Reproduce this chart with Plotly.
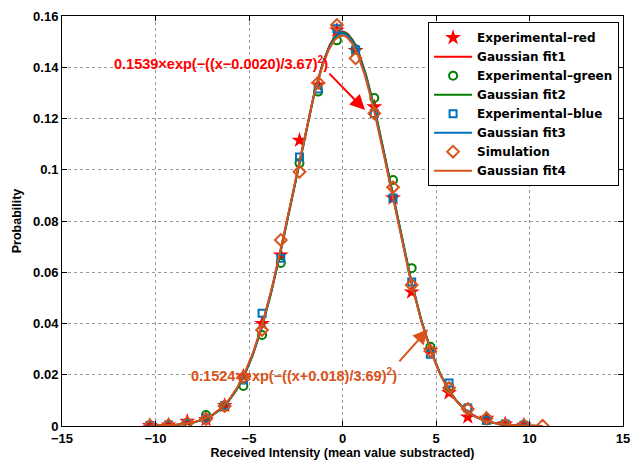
import numpy as np
import plotly.graph_objects as go

x_pts = [-10.3, -9.3, -8.3, -7.3, -6.3, -5.3, -4.3, -3.3, -2.3, -1.3, -0.3, 0.7,
         1.7, 2.7, 3.7, 4.7, 5.7, 6.7, 7.7, 8.7, 9.7]
x_sim = x_pts + [10.7]

red_vals = [0.0002, 0.0004, 0.0018, 0.0025, 0.0080, 0.0195, 0.0400, 0.0667, 0.1115, 0.1330,
            0.1545, 0.1465, 0.1245, 0.0890, 0.0523, 0.0295, 0.0130, 0.0035, 0.0030, 0.0008, 0.0003]
green_vals = [0.0002, 0.0004, 0.0012, 0.0043, 0.0074, 0.0156, 0.0355, 0.0636, 0.1026, 0.1305,
              0.1505, 0.1470, 0.1280, 0.0960, 0.0616, 0.0309, 0.0152, 0.0070, 0.0022, 0.0008, 0.0003]
blue_vals = [0.0002, 0.0004, 0.0010, 0.0030, 0.0080, 0.0180, 0.0440, 0.0655, 0.1050, 0.1315,
             0.1550, 0.1467, 0.1220, 0.0890, 0.0562, 0.0280, 0.0168, 0.0070, 0.0022, 0.0008, 0.0003]
sim_vals = [0.0002, 0.0004, 0.0012, 0.0027, 0.0078, 0.0190, 0.0375, 0.0726, 0.0992, 0.1340,
            0.1565, 0.1435, 0.1220, 0.0932, 0.0550, 0.0293, 0.0148, 0.0066, 0.0030, 0.0005, 0.0003, 0.0001]

# Gaussian fit parameters (amplitude, center, width)
fit1 = (0.1539, 0.0020, 3.67)
fit2 = (0.1536, 0.0100, 3.675)
fit3 = (0.1532, -0.0050, 3.68)
fit4 = (0.1524, -0.018, 3.69)

names = ["Experimental\u2013red", "Gaussian fit1", "Experimental\u2013green", "Gaussian fit2",
         "Experimental\u2013blue", "Gaussian fit3", "Simulation", "Gaussian fit4"]

RED, GREEN, BLUE, ORANGE = "#FF0000", "#008000", "#0072BD", "#D95319"

xc = np.linspace(-10.3, 10.7, 400)
def gauss(p):
    a, b, c = p
    return a * np.exp(-((xc - b) / c) ** 2)

fig = go.Figure()
fig.add_trace(go.Scatter(x=x_pts, y=red_vals, mode="markers", name=names[0],
                         marker=dict(symbol="star", size=12, color=RED, line=dict(width=0))))
fig.add_trace(go.Scatter(x=xc, y=gauss(fit1), mode="lines", name=names[1],
                         line=dict(color=RED, width=2)))
fig.add_trace(go.Scatter(x=x_pts, y=green_vals, mode="markers", name=names[2],
                         marker=dict(symbol="circle-open", size=8, color=GREEN, line=dict(width=2))))
fig.add_trace(go.Scatter(x=xc, y=gauss(fit2), mode="lines", name=names[3],
                         line=dict(color=GREEN, width=2)))
fig.add_trace(go.Scatter(x=x_pts, y=blue_vals, mode="markers", name=names[4],
                         marker=dict(symbol="square-open", size=7, color=BLUE, line=dict(width=2))))
fig.add_trace(go.Scatter(x=xc, y=gauss(fit3), mode="lines", name=names[5],
                         line=dict(color=BLUE, width=2)))
fig.add_trace(go.Scatter(x=x_sim, y=sim_vals, mode="markers", name=names[6],
                         marker=dict(symbol="diamond-open", size=9, color=ORANGE, line=dict(width=2))))
fig.add_trace(go.Scatter(x=xc, y=gauss(fit4), mode="lines", name=names[7],
                         line=dict(color=ORANGE, width=2)))

FONT = "Liberation Sans, Arial, sans-serif"
axis_common = dict(showline=True, linecolor="black", linewidth=1, mirror="ticks",
                   ticks="inside", ticklen=5, tickcolor="black", showgrid=True,
                   gridcolor="#999999", griddash="dot", gridwidth=1, zeroline=False,
                   tickfont=dict(family=FONT, size=13, color="black", weight="bold"))

fig.update_layout(
    width=634, height=463,
    margin=dict(l=62, r=11, t=16, b=37),
    paper_bgcolor="white", plot_bgcolor="white",
    font=dict(family=FONT, size=13, color="black"),
    xaxis=dict(range=[-15, 15], dtick=5, tick0=-15,
               title=dict(text="<b>Received Intensity (mean value substracted)</b>",
                          font=dict(family=FONT, size=12.5), standoff=3),
               automargin=False, **axis_common),
    yaxis=dict(range=[0, 0.16], dtick=0.02, tick0=0,
               title=dict(text="<b>Probability</b>", font=dict(family=FONT, size=12.5), standoff=8),
               automargin=False, **axis_common),
    legend=dict(x=0.993, y=0.985, xanchor="right", yanchor="top",
                bgcolor="white", bordercolor="black", borderwidth=1,
                font=dict(family="DejaVu Sans", size=12, color="black", weight="bold"),
                tracegroupgap=0, itemwidth=38),
    showlegend=True,
)

# arrows
fig.add_annotation(x=1.2, y=0.1233, ax=-0.78, ay=0.1381, xref="x", yref="y",
                   axref="x", ayref="y", text="", showarrow=True, arrowhead=2,
                   arrowsize=1.5, arrowwidth=2, arrowcolor=RED, font=dict(size=1))
fig.add_annotation(x=4.57, y=0.0378, ax=2.97, ay=0.0246, xref="x", yref="y",
                   axref="x", ayref="y", text="", showarrow=True, arrowhead=2,
                   arrowsize=1.5, arrowwidth=2, arrowcolor=ORANGE, font=dict(size=1))
# equation texts
fig.add_annotation(x=-0.65, y=0.1418, xref="x", yref="y", xanchor="right", yanchor="middle",
                   text="<b>0.1539\u00d7exp(\u2212((x\u22120.0020)/3.67)<sup>2</sup>)</b>",
                   showarrow=False, font=dict(family=FONT, size=14.5, color=RED))
fig.add_annotation(x=3.0, y=0.0200, xref="x", yref="y", xanchor="right", yanchor="middle",
                   text="<b>0.1524\u00d7exp(\u2212((x+0.018)/3.69)<sup>2</sup>)</b>",
                   showarrow=False, font=dict(family=FONT, size=14.5, color=ORANGE))

fig.write_html("out.html")
